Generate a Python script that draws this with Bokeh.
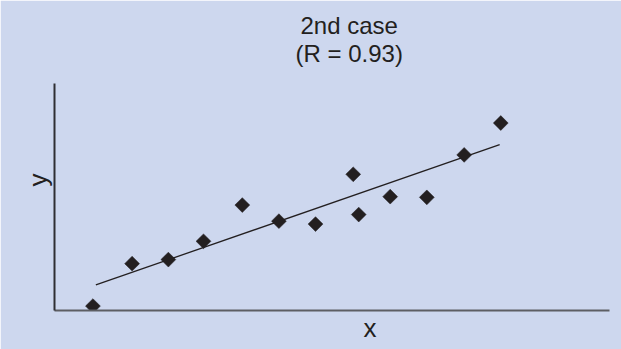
from bokeh.plotting import figure
from bokeh.models import Range1d, FixedTicker, Title, ColumnDataSource
from bokeh.embed import file_html
from bokeh.resources import INLINE
import math

# data
x_vals = [1.05, 2.12, 3.11, 4.07, 5.13, 6.13, 7.13, 8.16, 8.31, 9.17, 10.17, 11.19, 12.19]
y_vals = [0.12, 1.28, 1.39, 1.89, 2.88, 2.44, 2.36, 3.72, 2.62, 3.11, 3.09, 4.25, 5.12]
fit_x = [1.13, 12.16]
fit_y = [0.70, 4.53]
title_lines = ["2nd case", "(R = 0.93)"]
x_label = "x"
y_label = "y"

BG = "#cdd7ee"
INK = "#231f20"
FONT = "Liberation Sans"
FS = "24px"

p = figure(width=621, height=349, output_backend="svg", toolbar_location=None,
           x_range=Range1d(0, 15.16), y_range=Range1d(0, 6.2),
           min_border_left=54, min_border_right=12, min_border_top=83, min_border_bottom=39)
p.background_fill_color = BG
p.border_fill_color = BG
p.outline_line_color = BG
p.outline_line_width = 2
p.grid.visible = False

for ax in (p.xaxis, p.yaxis):
    ax.ticker = FixedTicker(ticks=[])
    ax.major_tick_line_color = None
    ax.minor_tick_line_color = None
    ax.major_tick_out = 0
    ax.major_label_standoff = 0
    ax.major_label_text_font_size = "0px"
p.yaxis.axis_line_color = "#2e2e33"
p.yaxis.axis_line_width = 2
p.xaxis.axis_line_color = "#5d5e63"
p.xaxis.axis_line_width = 2

def ttl(text, offset, standoff, valign="bottom", size=FS):
    return Title(text=text, align="left", offset=offset, vertical_align=valign,
                 text_font=FONT, text_font_size=size, text_font_style="normal",
                 text_color=INK, standoff=standoff)

# two-line title: first added is closest to the frame
p.add_layout(ttl(title_lines[1], 241, 34), "above")
p.add_layout(ttl(title_lines[0], 246, -36), "above")
# axis labels placed off-centre as in the reference
p.add_layout(ttl(x_label, 309, 4, valign="top", size="26px"), "below")
p.add_layout(ttl(y_label, 124, 4, size="26px"), "left")

src = ColumnDataSource(dict(x=x_vals, y=y_vals))
p.line(fit_x, fit_y, line_color=INK, line_width=1.3)
p.scatter("x", "y", source=src, marker="square", size=10.5, angle=math.pi / 4,
          fill_color=INK, line_color=INK, line_width=0.5)

open("out.html", "w").write(file_html(p, INLINE))
